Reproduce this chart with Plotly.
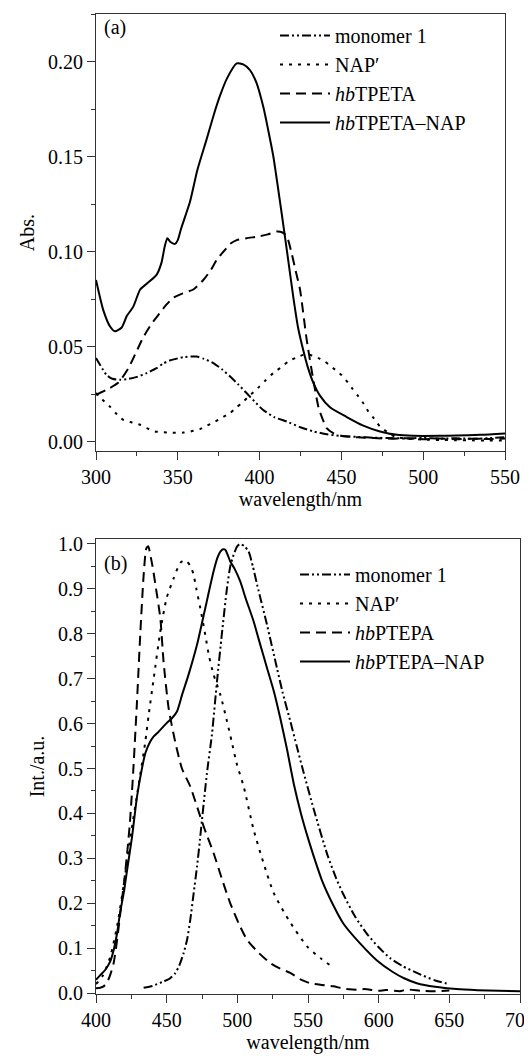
import plotly.graph_objects as go

# ---------------- Panel (a): absorption ----------------
abs_mono_wl = [300, 306.5, 310, 314.7, 320, 325, 331, 337, 341, 345, 353.4, 361.5, 366, 371.7, 377, 382, 387, 392, 397, 402,
               409, 416.6, 425, 433, 441, 449, 460, 470, 480, 490, 500, 510, 520, 530, 540, 550]
abs_mono = [0.044, 0.035, 0.033, 0.0325, 0.033, 0.034, 0.036, 0.0386, 0.041, 0.0426, 0.0444, 0.0447, 0.0435, 0.0413, 0.038,
            0.0342, 0.030, 0.0255, 0.021, 0.0167, 0.0128, 0.0105, 0.0075, 0.0053, 0.0038, 0.003, 0.0024, 0.002, 0.0018,
            0.0016, 0.0019, 0.0015, 0.0017, 0.0014, 0.0018, 0.0022]

abs_nap_wl = [300, 304, 308.5, 312, 316.7, 322, 327, 331, 336, 345, 353.5, 358, 363.6, 367, 371.7, 377, 382, 386, 390, 395,
              400, 404, 408.4, 413, 417.5, 422, 426.8, 431, 436, 440, 445, 450, 454, 457, 460.4, 463.5, 466.5, 470, 473.6,
              478, 482.7, 490, 500, 510, 520, 530, 540, 550]
abs_nap = [0.0255, 0.022, 0.0184, 0.015, 0.0114, 0.010, 0.0088, 0.007, 0.0053, 0.0047, 0.0047, 0.0053, 0.0065, 0.008, 0.010,
           0.0125, 0.015, 0.018, 0.021, 0.025, 0.029, 0.0325, 0.036, 0.039, 0.042, 0.044, 0.0456, 0.0455, 0.0439, 0.042,
           0.0386, 0.035, 0.031, 0.0275, 0.0237, 0.020, 0.0158, 0.012, 0.0079, 0.005, 0.0026, 0.0015, 0.001, 0.0008,
           0.0007, 0.0006, 0.0005, 0.0005]

abs_poly_wl = [300, 306, 313.7, 319.8, 324, 329, 334, 339, 343, 347, 353, 359.5, 365.6, 370, 373.8, 378, 382, 386, 392, 400,
               405, 410.4, 414, 416.6, 419.6, 422, 424.7, 428.8, 432.8, 436, 438, 441, 445, 450, 460, 470, 480, 490, 500,
               510, 520, 530, 540, 550]
abs_poly = [0.0246, 0.027, 0.031, 0.0386, 0.046, 0.055, 0.062, 0.0676, 0.072, 0.0755, 0.078, 0.080, 0.085, 0.090, 0.0956,
            0.100, 0.104, 0.106, 0.107, 0.108, 0.109, 0.1105, 0.110, 0.108, 0.099, 0.090, 0.080, 0.0535, 0.0325, 0.018,
            0.013, 0.007, 0.0044, 0.003, 0.0022, 0.0018, 0.0015, 0.0017, 0.0012, 0.0016, 0.0012, 0.0015, 0.0013, 0.0016]

abs_pnap_wl = [300, 304.5, 308.6, 311.6, 315.7, 318.8, 322.8, 327, 331, 337, 340, 342, 343.6, 345.5, 348.3, 350, 352, 357.4,
               362, 367.6, 372, 375.8, 380, 386, 390, 394, 398, 402.3, 405, 408.4, 411, 413.5, 416.6, 420.6, 423.5, 426.7,
               429.5, 432.8, 437, 443, 453, 463, 473.6, 484, 494, 510, 520, 535, 550]
abs_pnap = [0.085, 0.069, 0.0605, 0.058, 0.060, 0.066, 0.071, 0.080, 0.083, 0.0877, 0.094, 0.1026, 0.107, 0.105, 0.104,
            0.106, 0.112, 0.126, 0.143, 0.159, 0.172, 0.182, 0.191, 0.199, 0.1985, 0.1956, 0.189, 0.176, 0.165, 0.150,
            0.135, 0.120, 0.101, 0.076, 0.060, 0.048, 0.039, 0.031, 0.024, 0.018, 0.013, 0.0085, 0.0053, 0.0035, 0.003,
            0.003, 0.0032, 0.0035, 0.0042]

# ---------------- Panel (b): emission ----------------
em_mono_wl = [433.7, 440, 447.8, 452, 456, 459, 462, 464.5, 466.7, 469, 471.5, 473.5, 475, 478.5, 482, 485.6, 489, 492.7,
              495, 497.4, 500, 502, 505, 508, 511, 514, 521, 528, 532, 537.5, 542, 547, 554, 563.5, 570, 575, 583,
              591.7, 600, 608, 617, 627, 640, 650]
em_mono = [0.012, 0.016, 0.026, 0.032, 0.044, 0.062, 0.089, 0.12, 0.163, 0.22, 0.282, 0.34, 0.386, 0.49, 0.575, 0.694,
           0.798, 0.902, 0.95, 0.976, 0.995, 1.0, 0.995, 0.983, 0.95, 0.909, 0.82, 0.724, 0.67, 0.605, 0.55, 0.49, 0.41,
           0.31, 0.255, 0.22, 0.172, 0.132, 0.102, 0.078, 0.06, 0.045, 0.028, 0.02]

em_nap_wl = [400, 405, 410, 415, 420, 425, 430, 434.9, 437.3, 440.8, 445.5, 450, 455, 459.6, 462, 464.4, 467, 469, 471,
             473.8, 477.3, 480, 483.2, 488, 492.7, 496, 499.8, 504.5, 511.5, 518.6, 525.7, 536.3, 549.3, 558.7, 567]
em_nap = [0.02, 0.04, 0.08, 0.15, 0.25, 0.36, 0.46, 0.56, 0.62, 0.70, 0.805, 0.88, 0.924, 0.958, 0.963, 0.961, 0.95,
          0.932, 0.90, 0.857, 0.798, 0.75, 0.709, 0.664, 0.605, 0.56, 0.508, 0.46, 0.364, 0.289, 0.223, 0.163, 0.104,
          0.078, 0.059]

em_poly_wl = [400, 403, 405.4, 408, 410, 412.5, 415, 417.2, 420, 422, 424, 425.5, 426.6, 429, 431.3, 433.7, 435.6, 437,
              438.4, 440, 442, 445.5, 447.8, 451.4, 456, 460.8, 466.7, 473.8, 478, 483.2, 489, 495, 501, 506.8, 515,
              523.3, 530, 537.5, 545, 551.6, 560, 568, 575, 584.7, 590, 600, 605, 615, 620, 630, 640, 650]
em_poly = [0.011, 0.012, 0.015, 0.025, 0.04, 0.067, 0.12, 0.178, 0.25, 0.31, 0.38, 0.45, 0.508, 0.649, 0.798, 0.93, 0.99,
           0.995, 0.976, 0.95, 0.91, 0.835, 0.738, 0.634, 0.56, 0.50, 0.46, 0.393, 0.355, 0.312, 0.255, 0.20, 0.155,
           0.119, 0.09, 0.067, 0.055, 0.045, 0.03, 0.022, 0.018, 0.015, 0.01, 0.0074, 0.009, 0.005, 0.007, 0.004, 0.008,
           0.005, 0.004, 0.006]

em_pnap_wl = [400, 403, 406.6, 410, 412.5, 415, 417, 420, 422, 425.5, 429, 432.5, 435, 438.4, 441, 444.3, 450, 454, 457.3,
              461, 465.5, 471.5, 477.3, 483.2, 486, 488, 490, 491.5, 493, 495, 498, 502, 506, 511.5, 516, 521, 526,
              530.4, 535, 540, 545, 550, 554, 560, 568, 575, 587, 599, 610, 618, 627, 640, 655, 670, 685, 700]
em_pnap = [0.0296, 0.040, 0.052, 0.070, 0.096, 0.135, 0.178, 0.23, 0.274, 0.348, 0.437, 0.50, 0.535, 0.56, 0.572, 0.582,
           0.601, 0.613, 0.627, 0.665, 0.709, 0.776, 0.857, 0.939, 0.970, 0.983, 0.988, 0.987, 0.977, 0.961, 0.945,
           0.917, 0.878, 0.828, 0.778, 0.724, 0.67, 0.612, 0.545, 0.465, 0.40, 0.345, 0.305, 0.25, 0.195, 0.155, 0.11,
           0.072, 0.047, 0.033, 0.022, 0.014, 0.009, 0.0065, 0.005, 0.004]

names_a = ["monomer 1", "NAP\u2032", "<i>hb</i>TPETA", "<i>hb</i>TPETA\u2013NAP"]
names_b = ["monomer 1", "NAP\u2032", "<i>hb</i>PTEPA", "<i>hb</i>PTEPA\u2013NAP"]
dashes = ["9px,3px,2px,3px,2px,3px", "3px,6px", "10px,6px", "solid"]

FONT = "Liberation Serif"
FS = 20
OFF = 8                      # page body margin in the browser
W, H = 532 - OFF, 1056 - OFF


def px(x):
    return (x - OFF) / W


def py(y):
    return 1 - (y - OFF) / H


fig = go.Figure()
series_a = [(abs_mono_wl, abs_mono), (abs_nap_wl, abs_nap), (abs_poly_wl, abs_poly), (abs_pnap_wl, abs_pnap)]
series_b = [(em_mono_wl, em_mono), (em_nap_wl, em_nap), (em_poly_wl, em_poly), (em_pnap_wl, em_pnap)]
for (x, y), nm, d in zip(series_a, names_a, dashes):
    fig.add_trace(go.Scatter(x=x, y=y, name=nm, mode="lines", xaxis="x", yaxis="y", legend="legend",
                             line=dict(color="black", width=2, dash=d, shape="spline", smoothing=0.6)))
for (x, y), nm, d in zip(series_b, names_b, dashes):
    fig.add_trace(go.Scatter(x=x, y=y, name=nm, mode="lines", xaxis="x2", yaxis="y2", legend="legend2",
                             line=dict(color="black", width=2, dash=d, shape="spline", smoothing=0.6)))

axis_common = dict(showline=True, linecolor="#333", linewidth=1, mirror=True, ticks="outside", ticklen=8,
                   tickwidth=1, tickcolor="#333", showgrid=False, zeroline=False, automargin=False,
                   tickfont=dict(family=FONT, size=FS, color="black"), ticklabeloverflow="allow")

fig.update_layout(
    template="none",
    width=W, height=H, plot_bgcolor="white", paper_bgcolor="white",
    margin=dict(l=0, r=0, t=0, b=0, autoexpand=False),
    font=dict(family=FONT, size=FS, color="black"),
    xaxis=dict(domain=[px(96), px(505)], anchor="y", range=[300, 550], tickvals=[300, 350, 400, 450, 500, 550],
               minor=dict(dtick=25, tick0=300, ticks="outside", ticklen=4, tickcolor="#333"),
               title=dict(text="wavelength/nm", standoff=4, font=dict(family=FONT, size=FS)), **axis_common),
    yaxis=dict(domain=[py(451), py(14)], anchor="x", range=[-0.005, 0.225],
               tickvals=[0, 0.05, 0.10, 0.15, 0.20], tickformat=".2f",
               minor=dict(dtick=0.025, tick0=0, ticks="outside", ticklen=4, tickcolor="#333"),
               title=dict(text="Abs.", standoff=8, font=dict(family=FONT, size=FS)), **axis_common),
    xaxis2=dict(domain=[px(96), px(520)], anchor="y2", range=[400, 700],
                tickvals=[400, 450, 500, 550, 600, 650, 700],
                minor=dict(dtick=25, tick0=400, ticks="outside", ticklen=4, tickcolor="#333"),
                title=dict(text="wavelength/nm", standoff=2, font=dict(family=FONT, size=FS)), **axis_common),
    yaxis2=dict(domain=[py(994), py(539)], anchor="x2", range=[-0.002, 1.011],
                tickvals=[0, 0.1, 0.2, 0.3, 0.4, 0.5, 0.6, 0.7, 0.8, 0.9, 1.0], tickformat=".1f",
                minor=dict(dtick=0.05, tick0=0, ticks="outside", ticklen=4, tickcolor="#333"),
                title=dict(text="Int./a.u.", standoff=8, font=dict(family=FONT, size=FS)), **axis_common),
    legend=dict(x=px(275), y=py(16), xanchor="left", yanchor="top", bgcolor="rgba(0,0,0,0)",
                font=dict(family=FONT, size=FS), tracegroupgap=0, itemwidth=50),
    legend2=dict(x=px(295), y=py(555), xanchor="left", yanchor="top", bgcolor="rgba(0,0,0,0)",
                 font=dict(family=FONT, size=FS), tracegroupgap=0, itemwidth=50),
    annotations=[
        dict(text="(a)", x=px(102), y=py(28), xref="paper", yref="paper", xanchor="left", yanchor="middle",
             showarrow=False, font=dict(family=FONT, size=FS)),
        dict(text="(b)", x=px(102), y=py(563), xref="paper", yref="paper", xanchor="left", yanchor="middle",
             showarrow=False, font=dict(family=FONT, size=FS)),
    ],
)

fig.write_html("out.html")
